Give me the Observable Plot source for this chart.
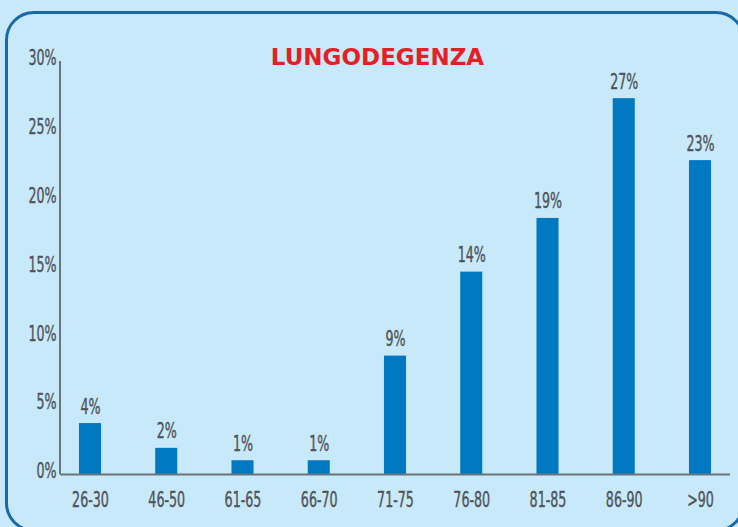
<!DOCTYPE html>
<html>
<head>
<meta charset="utf-8">
<script src="https://cdn.jsdelivr.net/npm/d3@7"></script>
<script src="https://cdn.jsdelivr.net/npm/@observablehq/plot@0.6"></script>
<style>
  html, body { margin: 0; padding: 0; background: #c8e9f9; }
  #wrap { position: relative; width: 738px; height: 527px; overflow: hidden; background: #c8e9f9; }
  #border { position: absolute; left: 5px; top: 11px; width: 740px; height: 521px;
            border: 3px solid #1b68a8; border-radius: 29px; box-sizing: border-box; }
  #chart { position: absolute; left: 0; top: 0; }
</style>
</head>
<body>
<div id="wrap">
  <div id="border"></div>
  <div id="chart"></div>
</div>
<script>
const categories = ["26-30", "46-50", "61-65", "66-70", "71-75", "76-80", "81-85", "86-90", ">90"];
const values = [3.7, 1.9, 1.0, 1.0, 8.6, 14.7, 18.6, 27.3, 22.8];
const valueLabels = ["4%", "2%", "1%", "1%", "9%", "14%", "19%", "27%", "23%"];
const yTicks = [0, 5, 10, 15, 20, 25, 30];
const title = "LUNGODEGENZA";

const data = categories.map((c, i) => ({cat: c, v: values[i], label: valueLabels[i]}));
const font = "'DejaVu Sans Condensed', 'DejaVu Sans', sans-serif";
const grey = "#505459";
const axisGrey = "#6b747c";

// left axis line drawn through the y scale
const yAxisLine = (index, scales, values, dims) => {
  const g = d3.create("svg:g");
  g.append("line")
    .attr("x1", dims.marginLeft).attr("x2", dims.marginLeft)
    .attr("y1", scales.y(30)).attr("y2", scales.y(0))
    .attr("stroke", axisGrey).attr("stroke-width", 2);
  return g.node();
};

const plot = Plot.plot({
  width: 738,
  height: 527,
  marginTop: 61,
  marginBottom: 53,
  marginLeft: 60,
  marginRight: 8,
  style: {background: "transparent", fontFamily: font, fontSize: "21px", color: grey},
  x: {domain: categories, paddingInner: 0.711, paddingOuter: 0.249, round: false, label: null},
  y: {domain: [0, 30], label: null},
  marks: [
    Plot.axisX({tickSize: 0, tickPadding: 18, fill: grey, fontSize: 21}),
    Plot.axisY({ticks: yTicks, tickFormat: d => d + "%", tickSize: 0, tickPadding: 4, dy: -3, fill: grey, fontSize: 21}),
    Plot.barY(data, {x: "cat", y: "v", fill: "#0079c2"}),
    Plot.ruleY([0], {stroke: axisGrey, strokeWidth: 2}),
    yAxisLine,
    Plot.text(data, {x: "cat", y: "v", text: "label", dy: -10, lineAnchor: "bottom", fill: grey, fontSize: 21, fontFamily: font}),
    Plot.text([title], {frameAnchor: "top", dx: -18, dy: -13, fill: "#e41f26", fontSize: 23, fontWeight: "bold",
      fontFamily: "'DejaVu Sans', sans-serif", letterSpacing: "2px"})
  ]
});
document.getElementById("chart").appendChild(plot);

// condense the grey labels horizontally (reference uses a narrow typeface)
d3.select(plot).selectAll("text").each(function () {
  if (this.textContent === title) return;
  const len = this.getComputedTextLength();
  if (len > 0) {
    this.setAttribute("textLength", (len * 0.67).toFixed(1));
    this.setAttribute("lengthAdjust", "spacingAndGlyphs");
  }
  this.style.stroke = grey;
  this.style.strokeWidth = "0.4px";
});
</script>
</body>
</html>
